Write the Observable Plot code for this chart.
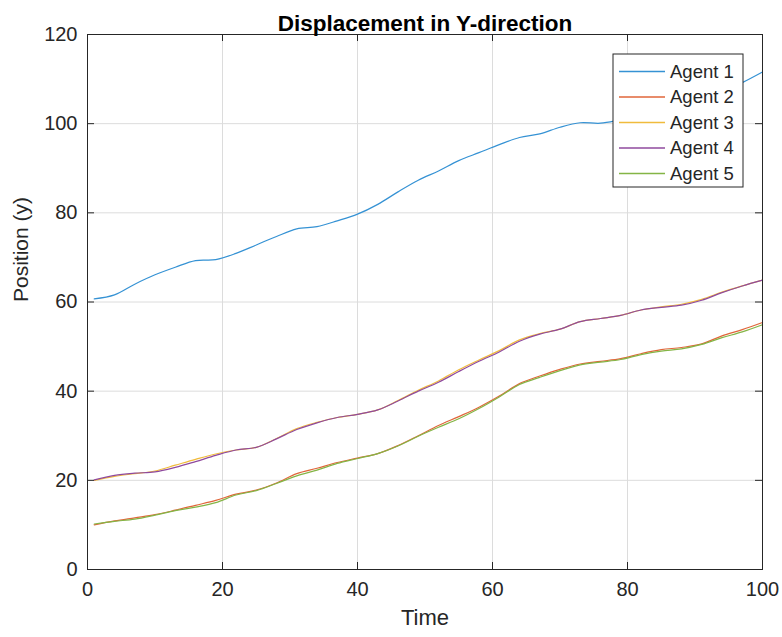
<!DOCTYPE html>
<html>
<head>
<meta charset="utf-8">
<script src="https://cdn.jsdelivr.net/npm/d3@7"></script>
<script src="https://cdn.jsdelivr.net/npm/@observablehq/plot@0.6"></script>
<style>
  html, body { margin: 0; padding: 0; background: #ffffff; }
  #chart svg { display: block; }
</style>
</head>
<body>
<div id="chart"></div>
<script>
// Sample times shared by every agent
const time = [1, 4, 7, 10, 13, 16, 19, 22, 25, 28, 31, 34, 37, 40, 43, 46, 49, 52, 55, 58, 61, 64, 67, 70, 73, 76, 79, 82, 85, 88, 91, 94, 97, 100];

// Y position of each agent at those times
const agent1 = [60.7, 61.6, 64.0, 66.1, 67.8, 69.3, 69.5, 70.9, 72.8, 74.7, 76.4, 76.9, 78.2, 79.7, 81.9, 84.7, 87.3, 89.4, 91.7, 93.5, 95.3, 96.9, 97.7, 99.2, 100.2, 100.1, 100.9, 101.8, 103.0, 104.3, 105.6, 107.0, 109.2, 111.6];
const agent2 = [10.0, 10.9, 11.6, 12.3, 13.3, 14.4, 15.5, 16.9, 17.8, 19.4, 21.5, 22.7, 24.0, 25.0, 26.0, 27.8, 30.0, 32.3, 34.3, 36.4, 38.9, 41.7, 43.4, 44.9, 46.1, 46.7, 47.3, 48.4, 49.3, 49.8, 50.6, 52.4, 53.8, 55.4];
const agent3 = [20.0, 20.9, 21.5, 22.1, 23.4, 24.7, 25.9, 26.8, 27.4, 29.4, 31.6, 33.0, 34.1, 34.8, 35.8, 37.9, 40.2, 42.3, 44.8, 47.0, 49.1, 51.5, 52.9, 53.9, 55.6, 56.3, 57.0, 58.2, 58.9, 59.5, 60.6, 62.2, 63.6, 64.9];
const agent4 = [20.1, 21.1, 21.6, 21.9, 22.9, 24.2, 25.6, 26.8, 27.4, 29.3, 31.4, 32.9, 34.1, 34.8, 35.8, 37.8, 40.0, 42.0, 44.4, 46.7, 48.8, 51.2, 52.8, 53.9, 55.6, 56.3, 57.0, 58.2, 58.8, 59.3, 60.4, 62.1, 63.6, 64.9];
const agent5 = [10.2, 10.8, 11.3, 12.2, 13.2, 14.0, 15.0, 16.7, 17.7, 19.3, 21.0, 22.3, 23.8, 24.9, 26.0, 27.7, 29.9, 31.9, 33.8, 36.1, 38.7, 41.5, 43.1, 44.6, 45.9, 46.5, 47.1, 48.2, 49.0, 49.5, 50.5, 52.0, 53.3, 54.9];

const agentNames = ["Agent 1", "Agent 2", "Agent 3", "Agent 4", "Agent 5"];
const agentColors = ["#3592d4", "#e0663a", "#f0bb3c", "#8f4a9e", "#84b546"];
const xTicks = [0, 20, 40, 60, 80, 100];
const yTicks = [0, 20, 40, 60, 80, 100, 120];

const series = [agent1, agent2, agent3, agent4, agent5];
const rows = series.flatMap((vals, i) =>
  vals.map((v, j) => ({agent: agentNames[i], t: time[j], y: v}))
);

const W = 782, H = 637;
const mL = 87, mR = 20, mT = 34, mB = 68;
const plotW = W - mL - mR, plotH = H - mT - mB;
const ink = "#262626";
const font = "'Liberation Sans', Arial, Helvetica, sans-serif";
const tickLen = 7;

const chart = Plot.plot({
  width: W,
  height: H,
  marginLeft: mL,
  marginRight: mR,
  marginTop: mT,
  marginBottom: mB,
  style: {fontFamily: font, color: ink, background: "#ffffff"},
  x: {domain: [0, 100]},
  y: {domain: [0, 120]},
  color: {domain: agentNames, range: agentColors},
  marks: [
    Plot.gridX(xTicks, {stroke: "#dcdcdc", strokeOpacity: 1}),
    Plot.gridY(yTicks, {stroke: "#dcdcdc", strokeOpacity: 1}),
    Plot.line(rows, {x: "t", y: "y", z: "agent", stroke: "agent", strokeWidth: 1.2, curve: "catmull-rom"}),
    // inward tick marks on all four sides of the box
    Plot.tickX(xTicks, {x: d => d, insetTop: plotH - tickLen, stroke: ink}),
    Plot.tickX(xTicks, {x: d => d, insetBottom: plotH - tickLen, stroke: ink}),
    Plot.tickY(yTicks, {y: d => d, insetRight: plotW - tickLen, stroke: ink}),
    Plot.tickY(yTicks, {y: d => d, insetLeft: plotW - tickLen, stroke: ink}),
    Plot.frame({stroke: ink, strokeWidth: 1}),
    Plot.axisX(xTicks, {tickSize: 0, tickPadding: 12, fontSize: 20, label: null, fill: ink}),
    Plot.axisY(yTicks, {tickSize: 0, tickPadding: 10, fontSize: 20, label: null, fill: ink}),
    Plot.text(["Displacement in Y-direction"], {frameAnchor: "top", dy: -19, fontSize: 22.5, fontWeight: "bold", fill: "#000"}),
    Plot.text(["Time"], {frameAnchor: "bottom", dy: 55, fontSize: 22, fill: ink}),
    Plot.text(["Position (y)"], {frameAnchor: "left", dx: -66, rotate: -90, fontSize: 21, fill: ink})
  ]
});

document.getElementById("chart").appendChild(chart);

// legend box in the upper right of the axes
const svg = d3.select(chart);
const lg = {x: 613, y: 54, w: 130, h: 133, rowH: 25.5, first: 17.5};
const legend = svg.append("g")
  .attr("font-family", font)
  .attr("font-size", 18.5)
  .attr("text-anchor", "start");
legend.append("rect")
  .attr("x", lg.x).attr("y", lg.y).attr("width", lg.w).attr("height", lg.h)
  .attr("fill", "#ffffff").attr("stroke", ink).attr("stroke-width", 1);
agentNames.forEach((name, i) => {
  const cy = lg.y + lg.first + i * lg.rowH;
  legend.append("line")
    .attr("x1", lg.x + 6).attr("x2", lg.x + 52).attr("y1", cy).attr("y2", cy)
    .attr("stroke", agentColors[i]).attr("stroke-width", 1.4);
  legend.append("text")
    .attr("x", lg.x + 57).attr("y", cy).attr("dy", "0.35em")
    .attr("fill", ink).text(name);
});
</script>
</body>
</html>
